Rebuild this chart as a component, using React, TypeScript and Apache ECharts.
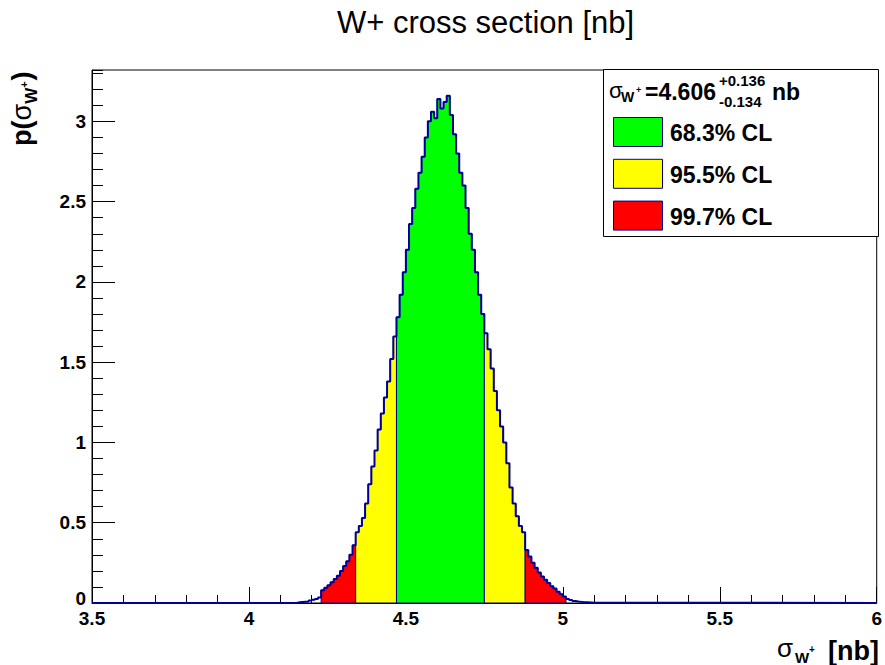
import React, { useEffect, useRef } from 'react';
import * as echarts from 'echarts';

// ---- data ----
const binStart = 4.15;
const binWidth = 0.01;
const binValues = [
  0.004, 0.006, 0.008, 0.01, 0.015, 0.02, 0.025, 0.035,
  0.08, 0.095, 0.11, 0.13, 0.15, 0.17, 0.2, 0.23, 0.26, 0.3, 0.36,
  0.44, 0.48, 0.53, 0.62, 0.74, 0.85, 0.95, 1.08, 1.18, 1.28, 1.38, 1.52, 1.66,
  1.78, 1.92, 2.06, 2.2, 2.36, 2.46, 2.58, 2.68, 2.78, 2.9, 3.0, 3.06, 3.02, 3.14,
  3.08, 3.12, 3.16, 3.04, 2.92, 2.8, 2.68, 2.6, 2.46, 2.3, 2.2, 2.06, 1.92, 1.8,
  1.68, 1.58, 1.46, 1.32, 1.2, 1.1, 1.0, 0.87, 0.72, 0.62, 0.54, 0.48, 0.44,
  0.33, 0.29, 0.25, 0.22, 0.19, 0.165, 0.145, 0.125, 0.105, 0.09, 0.07, 0.055, 0.04,
  0.025, 0.018, 0.012, 0.009, 0.007, 0.005, 0.004, 0.003, 0.002,
];
const regionEdges = [4.23, 4.34, 4.47, 4.75, 4.88, 5.01];
const regionLevels = [2, 1, 0, 1, 2];
const clLabels = ['68.3% CL', '95.5% CL', '99.7% CL'];
const clColors = ['#00ff00', '#ffff00', '#ff0000'];
const centralValue = '=4.606';
const errUp = '+0.136';
const errDown = '-0.134';
const titleText = 'W+ cross section [nb]';
const xMin = 3.5;
const xMax = 6;
const yMax = 3.32;

// ---- helpers ----
const FONT = '"Liberation Sans", Arial, Helvetica, sans-serif';
const NAVY = '#000099';

function measure(text: string, size: number, bold: boolean) {
  const ctx = document.createElement('canvas').getContext('2d') as CanvasRenderingContext2D;
  ctx.font = `${bold ? 'bold ' : ''}${size}px "Liberation Sans"`;
  return ctx.measureText(text).width;
}

function txt(x: number, baseline: number, text: string, size: number, bold: boolean, align = 'left') {
  return {
    type: 'text',
    x,
    y: baseline - 0.35 * size,
    style: {
      text,
      fontSize: size,
      fontWeight: bold ? 'bold' : 'normal',
      fontFamily: FONT,
      fill: '#000',
      align,
      verticalAlign: 'middle',
    },
  };
}

const r3 = (v: number) => Math.round(v * 1000) / 1000;
const bins = binValues.map((v, i) => [r3(binStart + i * binWidth), v]);
const binEnd = r3(binStart + binValues.length * binWidth);
const outline = [[xMin, 0], ...bins, [binEnd, 0], [xMax, 0]];
const regions = regionLevels.map((lvl, i) => [regionEdges[i], regionEdges[i + 1], lvl]);

function buildYTitle() {
  const F = 27;
  const children: any[] = [];
  let x = 0;
  children.push(txt(x, 0, 'p(', F, true));
  x += measure('p(', F, true);
  children.push(txt(x, 0, 'σ', F, false));
  x += measure('σ', F, false);
  children.push(txt(x, 6, 'W', 17, true));
  x += measure('W', 17, true);
  children.push(txt(x, -3, '+', 11, true));
  x += measure('+', 11, true) + 1;
  children.push(txt(x, 0, ')', F, true));
  return { type: 'group', x: 31, y: 146, rotation: Math.PI / 2, children };
}

function buildLegend() {
  const els: any[] = [];
  els.push({
    type: 'rect',
    shape: { x: 603.5, y: 69.5, width: 275, height: 167 },
    style: { fill: '#fff', stroke: '#000', lineWidth: 1 },
    z: 10,
  });
  const hdr: any[] = [
    txt(609, 98, 'σ', 22, false),
    txt(621, 102, 'W', 14, true),
    txt(636, 93, '+', 9, true),
    txt(645, 100, centralValue, 23, true),
    txt(719, 86, errUp, 15, true),
    txt(719, 107, errDown, 15, true),
    txt(772, 100, 'nb', 23, true),
  ];
  hdr.forEach((h) => els.push({ ...h, z: 11 }));
  clLabels.forEach((lab, i) => {
    const top = 117.5 + i * 41.8;
    els.push({
      type: 'rect',
      shape: { x: 613.5, y: top, width: 49, height: 29 },
      style: { fill: clColors[i], stroke: NAVY, lineWidth: 1 },
      z: 11,
    });
    els.push({ ...txt(670, top + 24, lab, 23, true), z: 11 });
  });
  return els;
}

function buildXTitle() {
  return [
    txt(777, 657, 'σ', 26, false),
    txt(795, 663, 'W', 15, true),
    txt(809, 653, '+', 10, true),
    txt(879, 660, '[nb]', 27, true, 'right'),
  ];
}

const isHalf = (v: number) => Math.abs(v * 2 - Math.round(v * 2)) < 1e-6;
const labelStyle = { color: '#000', fontSize: 19, fontWeight: 'bold', fontFamily: FONT };

export default function App() {
  const ref = useRef<HTMLDivElement>(null);
  useEffect(() => {
    const chart = echarts.init(ref.current as HTMLDivElement, null, { renderer: 'svg' });
    const option: any = {
      animation: false,
      backgroundColor: '#fff',
      grid: {
        left: 92, right: 6, top: 70, bottom: 62,
        show: true, borderColor: '#000', borderWidth: 1, backgroundColor: 'transparent',
      },
      xAxis: {
        type: 'value', min: xMin, max: xMax, interval: 0.5,
        axisLine: { show: true, onZero: false, lineStyle: { color: '#000', width: 1 } },
        axisTick: { show: true, inside: true, length: 16, lineStyle: { color: '#000' } },
        minorTick: { show: true, splitNumber: 5, length: 8, lineStyle: { color: '#000' } },
        splitLine: { show: false },
        minorSplitLine: { show: false },
        axisLabel: { ...labelStyle, margin: 6, formatter: (v: number) => String(v) },
      },
      yAxis: [
        {
          type: 'value', min: 0, max: yMax, interval: 0.5, position: 'left',
          axisLine: { show: true, onZero: false, lineStyle: { color: '#000', width: 1 } },
          axisTick: { show: true, inside: true, length: 23, lineStyle: { color: '#000' } },
          splitLine: { show: false },
          axisLabel: {
            ...labelStyle, margin: 6, showMaxLabel: false,
            formatter: (v: number) => (v === 0 ? '{z|0}' : isHalf(v) ? String(v) : ''),
            rich: { z: { ...labelStyle, padding: [0, 0, 9, 0] } },
          },
        },
        {
          type: 'value', min: 0, max: yMax, interval: 0.1, position: 'left',
          axisLine: { show: false },
          axisTick: { show: true, inside: true, length: 11, lineStyle: { color: '#000' } },
          splitLine: { show: false },
          axisLabel: { show: false },
        },
      ],
      series: [
        {
          type: 'custom',
          data: regions,
          z: 2,
          renderItem: (params: any, api: any) => {
            const lo = api.value(0);
            const hi = api.value(1);
            const lvl = api.value(2);
            const pts: number[][] = [api.coord([lo, 0])];
            bins.forEach(([x, v]) => {
              if (x >= lo - 1e-6 && x < hi - 1e-6) {
                pts.push(api.coord([x, v]), api.coord([r3(x + binWidth), v]));
              }
            });
            pts.push(api.coord([hi, 0]));
            return {
              type: 'polygon',
              shape: { points: pts },
              style: { fill: clColors[lvl], stroke: NAVY, lineWidth: 1 },
            };
          },
        },
        {
          type: 'line',
          data: outline,
          step: 'end',
          symbol: 'none',
          z: 5,
          lineStyle: { color: NAVY, width: 2 },
        },
      ],
      graphic: [
        txt(485.5, 33, titleText, 31, false, 'center'),
        buildYTitle(),
        ...buildXTitle(),
        ...buildLegend(),
      ],
    };
    chart.setOption(option);
    return () => chart.dispose();
  }, []);
  return <div ref={ref} style={{ position: 'absolute', left: 0, top: 0, width: 885, height: 665 }} />;
}
